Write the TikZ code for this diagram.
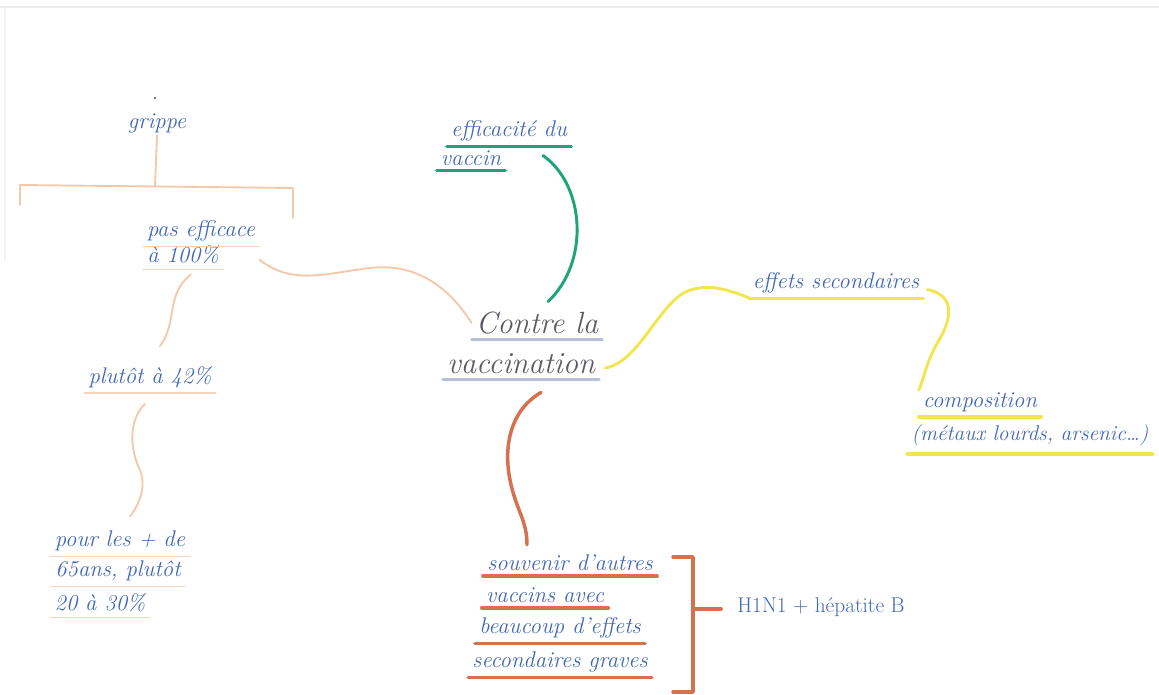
\documentclass[tikz,border=0pt]{standalone}
\usepackage{fontspec}
\usetikzlibrary{calc}
\definecolor{mmInk}{HTML}{4066B8}
\definecolor{mmGrey}{HTML}{5C5C66}
\definecolor{mmPeach}{HTML}{F4C9AA}
\definecolor{mmGreen}{HTML}{1FA37A}
\definecolor{mmYellow}{HTML}{F1E650}
\definecolor{mmRed}{HTML}{D6714F}
\definecolor{mmLilac}{HTML}{BABED9}
\definecolor{mmEdge}{HTML}{EDEDED}
\tikzset{
 mindmap/.style={x=.75pt,y=-.75pt,line cap=round,line join=round},
 idea/.style={text=mmInk,font=\fontsize{17}{20}\selectfont\itshape,inner xsep=3pt,inner ysep=1.5pt},
 bigidea/.style={idea,text=mmGrey,font=\fontsize{23}{26}\selectfont\itshape},
 plainidea/.style={idea,font=\fontsize{16}{20}\selectfont},
 peachlink/.style={draw=mmPeach,line width=1.4pt},
 greenlink/.style={draw=mmGreen,line width=2.2pt},
 yellowlink/.style={draw=mmYellow,line width=2.2pt},
 redlink/.style={draw=mmRed,line width=2.6pt},
 peachline/.style={draw=mmPeach!80,line width=1.2pt},
 greenline/.style={draw=mmGreen,line width=2.6pt},
 yellowline/.style={draw=mmYellow,line width=2.8pt},
 redline/.style={draw=mmRed,line width=2.8pt},
 lilacline/.style={draw=mmLilac,line width=2pt},
 pageedge/.style={draw=mmEdge,line width=2pt}
}
\newcommand{\mmUnder}[2]{\draw[#1] ($(#2.south west)+(0,3)$) -- ($(#2.south east)+(0,3)$);}

\begin{document}
\begin{tikzpicture}[mindmap]
 \useasboundingbox (0,0) rectangle (1159,695);
 \draw[pageedge] (0,7) -- (1159,7);
 \draw[pageedge,draw=mmEdge!60] (5,9) -- (5,260);
 % centre
 \node[bigidea] (cen1) at (537,323) {Contre la};
 \node[bigidea] (cen2) at (521,364) {vaccination};
 \mmUnder{lilacline}{cen1}
 \mmUnder{lilacline}{cen2}
 % grippe branch
 \fill[black!70] (155,98) circle (1.1);
 \node[idea] (grippe) at (157,123) {grippe};
 \node[idea] (eff1) at (201,231) {pas efficace};
 \node[idea] (eff2) at (183,255) {à 100\%};
 \node[idea] (plutot) at (150,377) {plutôt à 42\%};
 \node[idea] (pour1) at (120,541) {pour les + de};
 \node[idea] (pour2) at (118,571) {65ans, plutôt};
 \node[idea] (pour3) at (100,603) {20 à 30\%};
 \foreach \n in {eff1,eff2,plutot,pour1,pour2,pour3}{\mmUnder{peachline}{\n}}
 \coordinate (fork) at (155,187);
 \coordinate (forkL) at (20,185);
 \coordinate (forkR) at (293,188);
 \draw[peachlink] (grippe.south) -- (fork);
 \draw[peachlink] ($(forkL)+(0,20)$) -- (forkL) -- (forkR) -- ($(forkR)+(0,30)$);
 \draw[peachlink] ($(eff1.south east)+(0,16)$) .. controls (292,285) and (322,274) .. (370,268)
   .. controls (420,262) and (452,292) .. (cen1.west);
 \draw[peachlink] ($(eff2.south)+(8,8)$) .. controls (165,295) and (178,322) .. ($(plutot.north)+(10,-18)$);
 \draw[peachlink] ($(plutot.south)+(-5,14)$) .. controls (128,420) and (130,450) .. (140,470)
   .. controls (148,490) and (135,510) .. ($(pour1.north)+(10,-12)$);
 % efficacite
 \node[idea] (vac1) at (509,131) {efficacité du};
 \node[idea] (vac2) at (471,158) {vaccin};
 \mmUnder{greenline}{vac1}
 \mmUnder{greenline}{vac2}
 \draw[greenlink] ($(vac1.south)+(34,12)$) .. controls (585,185) and (590,262) .. ($(cen1.north)+(11,-8)$);
 % effets secondaires
 \node[idea] (sec) at (836,283) {effets secondaires};
 \node[idea] (comp1) at (980,402) {composition};
 \node[idea,font=\fontsize{16}{20}\selectfont\itshape] (comp2) at (1030,435) {(métaux lourds, arsenic\ldots)};
 \mmUnder{yellowline}{sec}
 \mmUnder{yellowline}{comp1}
 \draw[yellowline] ($(comp2.south west)+(0,6)$) -- ($(comp2.south east)+(0,6)$);
 \draw[yellowlink] ($(cen2.east)+(6,4)$) .. controls (640,362) and (660,300) .. (690,290)
   .. controls (705,286) and (716,285) .. ($(sec.south west)+(0,2)$);
 \draw[yellowlink] ($(sec.south east)+(4,-6)$) .. controls (958,296) and (950,322) .. (938,342)
   .. controls (926,362) and (925,376) .. (comp1.north west);
 % souvenirs
 \node[idea] (souv1) at (570,563) {souvenir d'autres};
 \node[idea] (souv2) at (545,595) {vaccins avec};
 \node[idea] (souv3) at (560,628) {beaucoup d'effets};
 \node[idea] (souv4) at (560,662) {secondaires graves};
 \foreach \n in {souv1,souv2,souv3,souv4}{\mmUnder{redline}{\n}}
 \draw[redlink] ($(cen2.south)+(20,16)$) .. controls (508,412) and (504,450) .. (510,480)
   .. controls (516,510) and (527,520) .. ($(souv1.north)+(-43,-8)$);
 \node[plainidea] (hep) at (821,607) {H1N1 + hépatite B};
 \coordinate (brTop) at (673,557);
 \coordinate (brBot) at (673,692);
 \coordinate (brMid) at (693,609);
 \draw[redlink] (brTop) -- ++(20,0) -- ($(brBot)+(20,0)$) -- (brBot);
 \draw[redlink] (brMid) -- ($(hep.west)+(-12,2)$);
\end{tikzpicture}
\end{document}
